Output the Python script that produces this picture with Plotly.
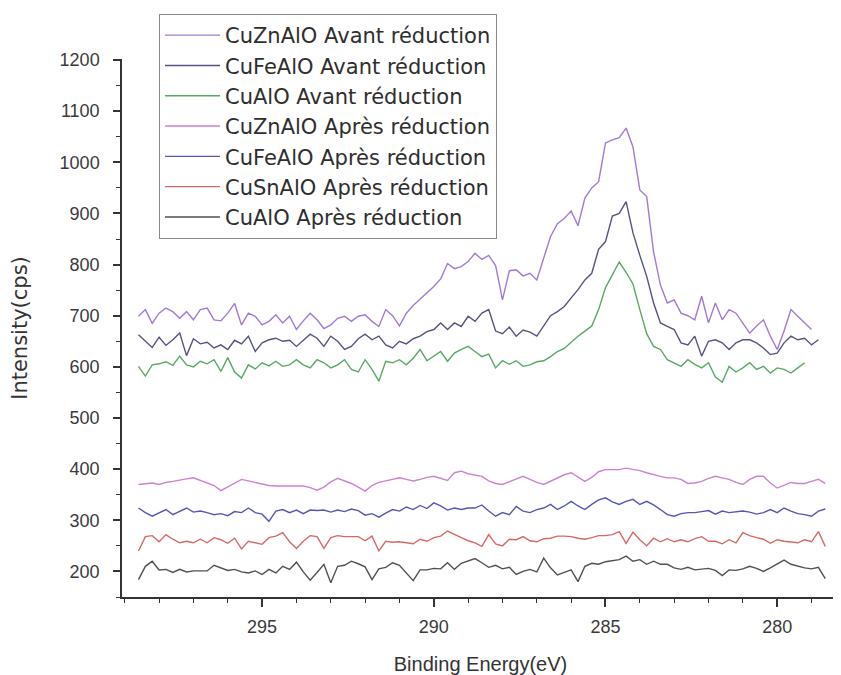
import plotly.graph_objects as go

# Binding energy grid (eV), 0.2 eV steps from 298.6 down to 278.6
energy = [round(298.6 - 0.2 * i, 1) for i in range(101)]

cuznalo_avant = [
    699, 712, 685, 705, 715, 708, 695, 708, 692, 712,
    715, 692, 690, 705, 724, 682, 705, 699, 682, 689,
    702, 686, 699, 673, 690, 705, 692, 675, 682, 695,
    699, 689, 699, 702, 689, 679, 712, 700, 680, 705,
    720, 732, 745, 757, 772, 802, 792, 796, 806, 822,
    810, 818, 798, 731, 788, 790, 778, 783, 770, 815,
    855, 880, 890, 905, 876, 930, 950, 962, 1038, 1044,
    1048, 1067, 1030, 946, 933, 825, 760, 725, 731, 705,
    700, 692, 738, 686, 725, 692, 712, 705, 686, 666,
    680, 692, 660, 634, 670, 712, 699, 686, 673, None,
    None]

cufealo_avant = [
    663, 650, 638, 658, 642, 653, 666, 622, 655, 645,
    648, 637, 643, 634, 652, 645, 660, 630, 647, 653,
    656, 650, 652, 640, 653, 664, 656, 640, 660, 650,
    634, 640, 655, 664, 653, 660, 643, 637, 650, 645,
    655, 660, 669, 673, 686, 673, 686, 679, 699, 689,
    705, 712, 670, 665, 678, 660, 672, 668, 660, 680,
    700, 708, 718, 735, 751, 770, 783, 830, 845, 895,
    900, 923, 862, 818, 777, 725, 686, 679, 673, 647,
    643, 660, 621, 650, 653, 647, 634, 647, 653, 653,
    647, 637, 624, 627, 647, 660, 653, 656, 643, 653,
    None]

cualo_avant = [
    601, 582, 604, 606, 610, 603, 621, 604, 600, 611,
    606, 614, 591, 618, 590, 578, 604, 596, 608, 602,
    611, 601, 604, 614, 604, 598, 614, 608, 598, 604,
    614, 595, 590, 614, 595, 572, 611, 608, 614, 604,
    617, 634, 612, 621, 630, 611, 627, 634, 640, 630,
    620, 625, 598, 612, 605, 612, 601, 604, 610, 612,
    620, 630, 636, 648, 660, 670, 680, 712, 755, 780,
    805, 785, 762, 712, 665, 640, 634, 614, 608, 601,
    614, 605, 598, 608, 580, 570, 601, 590, 598, 608,
    595, 601, 588, 598, 595, 588, 598, 608, None, None,
    None]

cuznalo_apres = [
    370, 372, 373, 370, 374, 376, 379, 381, 383, 378,
    372, 368, 358, 365, 373, 380, 377, 374, 370, 368,
    367, 367, 367, 367, 367, 364, 359, 365, 375, 382,
    377, 372, 365, 357, 368, 374, 377, 380, 383, 380,
    377, 380, 384, 386, 382, 378, 393, 396, 391, 388,
    386, 377, 372, 370, 375, 380, 386, 380, 374, 370,
    376, 383, 389, 393, 384, 376, 384, 395, 399, 399,
    399, 402, 400, 397, 393, 389, 386, 383, 383, 380,
    372, 373, 376, 382, 386, 383, 380, 374, 370, 380,
    386, 386, 373, 363, 368, 374, 372, 372, 376, 380,
    372]

cufealo_apres = [
    324, 315, 308, 315, 321, 311, 318, 324, 316, 318,
    315, 311, 313, 309, 317, 315, 324, 315, 312, 298,
    318, 321, 315, 320, 313, 320, 319, 320, 316, 320,
    317, 322, 319, 310, 313, 306, 314, 321, 318, 326,
    321, 329, 323, 334, 328, 320, 324, 321, 324, 324,
    330, 318, 308, 315, 311, 327, 318, 315, 321, 324,
    331, 321, 328, 337, 328, 321, 331, 340, 344, 336,
    331, 337, 341, 331, 337, 330, 321, 311, 308, 313,
    315, 315, 317, 319, 312, 318, 315, 317, 318, 316,
    312, 315, 321, 315, 324, 318, 313, 311, 308, 318,
    322]

cusnalo_apres = [
    240, 268, 270, 258, 272, 263, 256, 259, 256, 263,
    256, 266, 262, 255, 265, 244, 259, 256, 253, 266,
    269, 276, 258, 245, 259, 270, 268, 245, 266, 270,
    268, 268, 268, 260, 269, 240, 259, 257, 258, 256,
    254, 263, 259, 266, 269, 279, 272, 266, 260, 256,
    249, 272, 254, 250, 263, 262, 268, 260, 258, 264,
    265, 269, 269, 268, 265, 263, 266, 270, 270, 272,
    278, 255, 277, 262, 250, 265, 258, 264, 258, 262,
    258, 264, 268, 259, 259, 254, 262, 256, 276, 270,
    266, 263, 255, 262, 259, 258, 256, 262, 258, 278,
    249]

cualo_apres = [
    184, 210, 220, 203, 204, 198, 204, 199, 201, 201,
    201, 212, 207, 202, 204, 199, 197, 201, 194, 204,
    197, 210, 204, 218, 199, 183, 198, 214, 178, 210,
    212, 220, 215, 209, 184, 205, 208, 217, 212, 198,
    182, 203, 203, 206, 205, 217, 204, 216, 220, 225,
    217, 208, 212, 205, 208, 194, 200, 204, 199, 226,
    207, 193, 198, 203, 180, 210, 216, 214, 219, 221,
    223, 230, 220, 223, 214, 220, 214, 214, 207, 204,
    208, 203, 205, 206, 202, 192, 203, 202, 205, 210,
    206, 200, 207, 215, 222, 214, 210, 207, 205, 208,
    186]

series_names = [
    "CuZnAlO Avant réduction",
    "CuFeAlO Avant réduction",
    "CuAlO Avant réduction",
    "CuZnAlO Après réduction",
    "CuFeAlO Après réduction",
    "CuSnAlO Après réduction",
    "CuAlO Après réduction",
]
series_values = [cuznalo_avant, cufealo_avant, cualo_avant,
                 cuznalo_apres, cufealo_apres, cusnalo_apres, cualo_apres]
series_colors = ["#a27ad6", "#545480", "#58a866", "#cc82cf",
                 "#5656b8", "#d86868", "#505050"]

x_tickvals = [295, 290, 285, 280]
y_tickvals = [200, 300, 400, 500, 600, 700, 800, 900, 1000, 1100, 1200]

fig = go.Figure()
for name, vals, col in zip(series_names, series_values, series_colors):
    fig.add_trace(go.Scatter(
        x=energy, y=vals, mode="lines", name=name,
        line=dict(color=col, width=1.4),
        connectgaps=False,
    ))

tick_font = dict(family="Liberation Sans, Arial, sans-serif", size=18, color="#3a3a3a")

# The page body adds an 8 px offset; figure size/margins compensate for it.
fig.update_layout(
    width=833, height=667,
    margin=dict(l=114, r=2, t=51, b=78, autoexpand=False),
    paper_bgcolor="white", plot_bgcolor="white",
    font=dict(family="Liberation Sans, Arial, sans-serif", color="#333"),
    showlegend=True,
    legend=dict(
        x=0.0516, y=1.0836, xanchor="left", yanchor="top",
        bgcolor="white", bordercolor="#8a8a8a", borderwidth=1,
        font=dict(family="DejaVu Sans, sans-serif", size=21, color="#2e2e2e"),
        tracegroupgap=0, itemwidth=55,
        entrywidth=292, entrywidthmode="pixels",
    ),
    xaxis=dict(
        range=[299.08, 278.2], tickmode="array", tickvals=x_tickvals,
        ticks="outside", ticklen=8, tickwidth=1.5, tickcolor="#333",
        minor=dict(dtick=1, tick0=280, ticks="outside", ticklen=4, tickwidth=1.3, tickcolor="#333"),
        showline=True, linecolor="#333", linewidth=1.5, ticklabelstandoff=5,
        showgrid=False, zeroline=False, tickfont=tick_font, automargin=False,
        title=dict(text="Binding Energy(eV)", standoff=22,
                   font=dict(family="Liberation Sans, Arial, sans-serif", size=20, color="#333")),
    ),
    yaxis=dict(
        range=[150, 1202], tickmode="array", tickvals=y_tickvals,
        ticks="outside", ticklen=7, tickwidth=1.5, tickcolor="#333",
        minor=dict(dtick=50, tick0=0, ticks="outside", ticklen=4, tickwidth=1.3, tickcolor="#333"),
        showline=True, linecolor="#333", linewidth=1.5, ticklabelstandoff=10,
        showgrid=False, zeroline=False, tickfont=tick_font, automargin=False,
        title=dict(text="Intensity(cps)", standoff=29,
                   font=dict(family="DejaVu Sans, sans-serif", size=21, color="#333")),
    ),
)

fig.write_html("out.html")
